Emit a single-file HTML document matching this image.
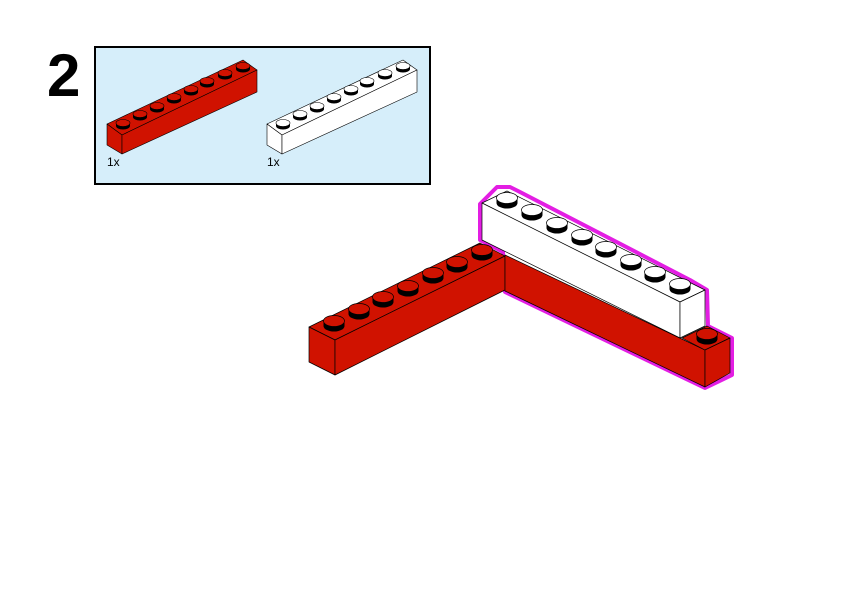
<!DOCTYPE html>
<html><head><meta charset="utf-8"><style>
html,body{margin:0;padding:0;background:#fff;width:842px;height:596px;overflow:hidden}
</style></head><body>
<svg width="842" height="596" viewBox="0 0 842 596" xmlns="http://www.w3.org/2000/svg">
<defs>
<g id="sr"><path d="M-7,0 L-7,3 A7,3.5 0 0 0 7,3 L7,0 Z" fill="#000"/><ellipse cx="0" cy="0" rx="7" ry="3.5" fill="#d01200" stroke="#000" stroke-width="0.6"/></g>
<g id="sw"><path d="M-7,0 L-7,3 A7,3.5 0 0 0 7,3 L7,0 Z" fill="#000"/><ellipse cx="0" cy="0" rx="7" ry="3.5" fill="#fff" stroke="#000" stroke-width="0.6"/></g>
<g id="br"><path d="M-10.5,0 L-10.5,5 A10.5,5.5 0 0 0 10.5,5 L10.5,0 Z" fill="#000"/><ellipse cx="0" cy="0" rx="10.5" ry="5.5" fill="#d01200" stroke="#000" stroke-width="0.7"/></g>
<g id="bw"><path d="M-10.5,0 L-10.5,5 A10.5,5.5 0 0 0 10.5,5 L10.5,0 Z" fill="#000"/><ellipse cx="0" cy="0" rx="10.5" ry="5.5" fill="#fff" stroke="#000" stroke-width="0.7"/></g>
</defs>
<text x="47" y="96" font-family="Liberation Sans, sans-serif" font-weight="bold" font-size="60">2</text>
<rect x="95" y="47" width="335" height="137" fill="#d6eefa" stroke="#000" stroke-width="2"/>
<!-- small red brick -->
<g stroke="#000" stroke-width="0.6" stroke-linejoin="round">
<polygon points="107,124 122,135 257,70 243,60" fill="#d01200"/>
<polygon points="107,124 122,135 122,154 107,145" fill="#d01200"/>
<polygon points="122,135 257,70 257,92 122,154" fill="#d01200"/>
</g>
<use href="#sr" x="123" y="123"/><use href="#sr" x="140" y="114"/><use href="#sr" x="157" y="106"/><use href="#sr" x="174" y="97"/><use href="#sr" x="191" y="89"/><use href="#sr" x="207" y="81"/><use href="#sr" x="225" y="73"/><use href="#sr" x="243" y="66"/>
<!-- small white brick -->
<g transform="translate(160,0)">
<g stroke="#000" stroke-width="0.6" stroke-linejoin="round">
<polygon points="107,124 122,135 257,70 243,60" fill="#fff"/>
<polygon points="107,124 122,135 122,154 107,145" fill="#fff"/>
<polygon points="122,135 257,70 257,92 122,154" fill="#fff"/>
</g>
<use href="#sw" x="123" y="123"/><use href="#sw" x="140" y="114"/><use href="#sw" x="157" y="106"/><use href="#sw" x="174" y="97"/><use href="#sw" x="191" y="89"/><use href="#sw" x="207" y="81"/><use href="#sw" x="225" y="73"/><use href="#sw" x="243" y="66"/>
</g>
<text x="107" y="166" font-family="Liberation Sans, sans-serif" font-size="12">1x</text>
<text x="267" y="166" font-family="Liberation Sans, sans-serif" font-size="12">1x</text>

<!-- main model -->
<path d="M480,204 L480,240 L503,252 L505,292 L705,388 L732,375 L732,338 L708,326 L707,290 L690,280 L520,192 L510,187 L497,187 Z" fill="none" stroke="#e31ee3" stroke-width="4" stroke-linejoin="round"/>
<g stroke="#000" stroke-width="0.7" stroke-linejoin="round">
<polygon points="309,327 335,340 505,256 480,243" fill="#d01200"/>
<polygon points="309,327 335,340 335,375 309,362" fill="#d01200"/>
<polygon points="335,340 505,256 505,290 335,375" fill="#d01200"/>
<polygon points="505,255 705,350 705,387 505,291" fill="#d01200"/>
<polygon points="682,338 705,350 730,338 707,326" fill="#d01200"/>
<polygon points="705,350 730,338 730,373 705,387" fill="#d01200"/>
<polygon points="482,203 507,191 705,290 680,302" fill="#fff"/>
<polygon points="482,203 680,302 680,338 482,240" fill="#fff"/>
<polygon points="680,302 705,290 705,326 680,338" fill="#fff"/>
</g>
<use href="#br" x="334" y="321"/><use href="#br" x="359" y="309"/><use href="#br" x="383" y="297"/><use href="#br" x="408" y="286"/><use href="#br" x="433" y="273"/><use href="#br" x="457" y="262"/><use href="#br" x="482" y="250"/>
<use href="#bw" x="507" y="198"/><use href="#bw" x="532" y="210"/><use href="#bw" x="557" y="223"/><use href="#bw" x="582" y="235"/><use href="#bw" x="606" y="247"/><use href="#bw" x="631" y="260"/><use href="#bw" x="655" y="272"/><use href="#bw" x="680" y="284"/>
<use href="#br" x="707" y="334"/>
</svg>
</body></html>
